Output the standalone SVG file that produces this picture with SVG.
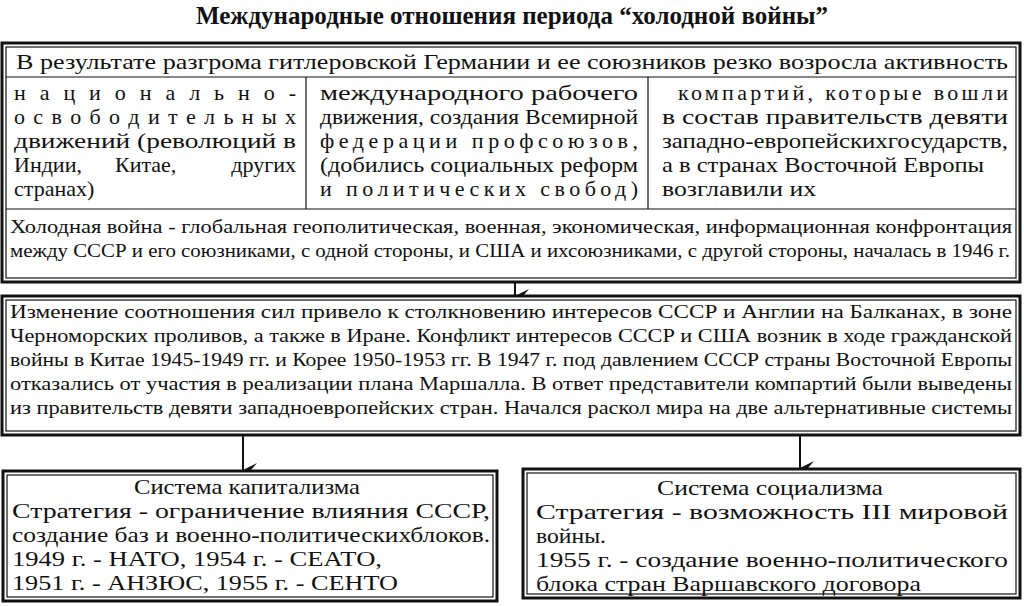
<svg xmlns="http://www.w3.org/2000/svg" width="1024" height="606" viewBox="0 0 1024 606" font-family="Liberation Serif, DejaVu Serif, serif">
<defs>
<style>
text{font-family:"Liberation Serif","DejaVu Serif",serif;fill:#111}
.o{fill:#fff;stroke:#111;stroke-width:3}
.i{fill:none;stroke:#111;stroke-width:1.2}
.l{stroke:#111;stroke-width:2}
.t20{font-size:20px}
.t22{font-size:22px}
.t17{font-size:17.5px}
.t18{font-size:18.5px}
</style>
<marker id="ah" markerWidth="16" markerHeight="16" refX="8" refY="14" orient="auto" markerUnits="userSpaceOnUse"><path d="M1,0 L8,14 L15,0 L8,6 Z" fill="#111"/></marker>
</defs>
<rect width="1024" height="606" fill="#fff"/>
<text x="512" y="24" text-anchor="middle" font-size="25" font-weight="bold">Международные отношения периода “холодной войны”</text>
<g id="connectors">
<line class="l" x1="515" y1="278" x2="515" y2="296" marker-end="url(#ah)"/>
<line class="l" x1="243" y1="435" x2="243" y2="470" marker-end="url(#ah)"/>
<line class="l" x1="800" y1="435" x2="800" y2="468" marker-end="url(#ah)"/>
</g>
<g id="top">
<rect class="o" x="2" y="43" width="1018" height="239"/>
<rect class="i" x="6" y="47" width="1010" height="231"/>
<line class="i" x1="6" y1="77" x2="1016" y2="77"/>
<line class="i" x1="6" y1="209" x2="1016" y2="209"/>
<line class="i" x1="306" y1="77" x2="306" y2="209"/>
<line class="i" x1="648" y1="77" x2="648" y2="209"/>
<text x="16" y="69" font-size="22" textLength="992" lengthAdjust="spacingAndGlyphs">В  результате разгрома гитлеровской Германии и ее союзников резко возросла активность</text>
<g class="t22">
<text x="14" y="100" textLength="282" lengthAdjust="spacing">н а ц и о н а л ь н о -</text>
<text x="14" y="124" textLength="282" lengthAdjust="spacing">о с в о б о д и т е л ь н ы х</text>
<text x="14" y="148" textLength="282" lengthAdjust="spacingAndGlyphs">движений (революций в</text>
<text x="14" y="172">Индии,</text>
<text x="115" y="172">Китае,</text>
<text x="296" y="172" text-anchor="end">других</text>
<text x="14" y="196">странах)</text>
<text x="320" y="100" textLength="318" lengthAdjust="spacingAndGlyphs">международного рабочего</text>
<text x="320" y="124" textLength="318" lengthAdjust="spacingAndGlyphs">движения, создания Всемирной</text>
<text x="320" y="148" textLength="318" lengthAdjust="spacing">федерации  профсоюзов,</text>
<text x="320" y="172" textLength="318" lengthAdjust="spacingAndGlyphs">(добились социальных реформ</text>
<text x="320" y="196" textLength="318" lengthAdjust="spacing">и  политических  свобод)</text>
<text x="678" y="100" textLength="330" lengthAdjust="spacing">компартий,  которые  вошли</text>
<text x="662" y="124" textLength="346" lengthAdjust="spacingAndGlyphs">в  состав  правительств  девяти</text>
<text x="662" y="148" textLength="346" lengthAdjust="spacingAndGlyphs">западно-европейскихгосударств,</text>
<text x="662" y="172" textLength="322" lengthAdjust="spacingAndGlyphs">а в странах Восточной Европы</text>
<text x="662" y="196" textLength="154" lengthAdjust="spacingAndGlyphs">возглавили их</text>
</g>
<g class="t18">
<text x="10" y="233" textLength="1002" lengthAdjust="spacingAndGlyphs">Холодная война - глобальная геополитическая, военная, экономическая, информационная конфронтация</text>
<text x="10" y="257" textLength="1000" lengthAdjust="spacingAndGlyphs">между СССР и его союзниками, с одной стороны, и США и ихсоюзниками, с другой стороны, началась в 1946 г.</text>
</g>
</g>
<g id="middle">
<rect class="o" x="2" y="296" width="1018" height="139"/>
<rect class="i" x="6" y="300" width="1010" height="131"/>
<g class="t18">
<text x="10" y="318" textLength="1002" lengthAdjust="spacingAndGlyphs">Изменение соотношения сил привело к столкновению интересов СССР и Англии на Балканах, в зоне</text>
<text x="10" y="342" textLength="1002" lengthAdjust="spacingAndGlyphs">Черноморских проливов, а также в Иране.  Конфликт интересов СССР и США возник в ходе гражданской</text>
<text x="10" y="366" textLength="1002" lengthAdjust="spacingAndGlyphs">войны в Китае 1945-1949 гг.  и Корее 1950-1953 гг.  В  1947 г.  под давлением СССР страны Восточной Европы</text>
<text x="10" y="390" textLength="1002" lengthAdjust="spacingAndGlyphs">отказались от участия в реализации плана Маршалла.  В  ответ представители компартий были выведены</text>
<text x="10" y="414" textLength="1002" lengthAdjust="spacingAndGlyphs">из правительств девяти западноевропейских стран.  Начался раскол мира на две альтернативные системы</text>
</g>
</g>
<g id="capitalism">
<rect class="o" x="3" y="471" width="494" height="130"/>
<rect class="i" x="7" y="475" width="486" height="122"/>
<g class="t22">
<text x="134" y="494" textLength="226" lengthAdjust="spacingAndGlyphs">Система капитализма</text>
<text x="12" y="518" textLength="478" lengthAdjust="spacingAndGlyphs">Стратегия  - ограничение  влияния  СССР,</text>
<text x="12" y="542" textLength="478" lengthAdjust="spacingAndGlyphs">создание баз  и военно-политическихблоков.</text>
<text x="12" y="566" textLength="370" lengthAdjust="spacingAndGlyphs">1949 г.  - НАТО, 1954 г.  - СЕАТО,</text>
<text x="12" y="590" textLength="386" lengthAdjust="spacingAndGlyphs">1951 г.  - АНЗЮС, 1955 г.  - СЕНТО</text>
</g>
</g>
<g id="socialism">
<rect class="o" x="523" y="469" width="497" height="129"/>
<rect class="i" x="527" y="473" width="489" height="121"/>
<g class="t22">
<text x="657" y="495" textLength="226" lengthAdjust="spacingAndGlyphs">Система социализма</text>
<text x="536" y="519" textLength="472" lengthAdjust="spacingAndGlyphs">Стратегия  -  возможность  III  мировой</text>
<text x="536" y="543" textLength="70" lengthAdjust="spacingAndGlyphs">войны.</text>
<text x="536" y="567" textLength="472" lengthAdjust="spacingAndGlyphs">1955 г.  - создание  военно-политического</text>
<text x="536" y="591" textLength="385" lengthAdjust="spacingAndGlyphs">блока стран Варшавского договора</text>
</g>
</g>
</svg>
